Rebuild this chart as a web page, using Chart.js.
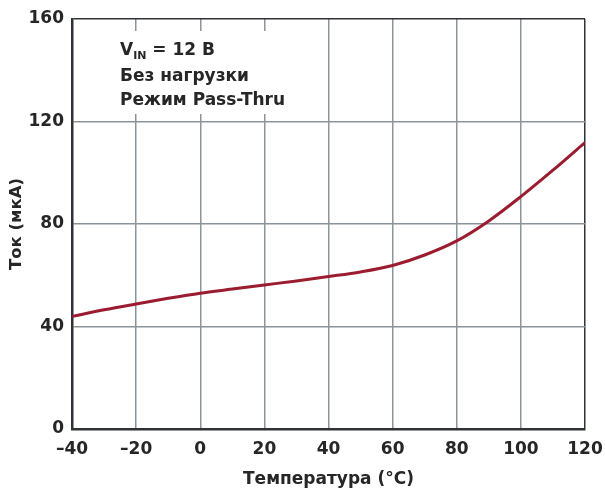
<!DOCTYPE html>
<html>
<head>
<meta charset="utf-8">
<script src="https://cdn.jsdelivr.net/npm/chart.js@4/dist/chart.umd.min.js"></script>
<style>
  html, body { margin: 0; padding: 0; background: #fff; }
  #wrap { width: 605px; height: 490px; }
</style>
</head>
<body>
<div id="wrap"><canvas id="c" width="605" height="490"></canvas></div>
<script>
// данные
const temps = [-40, -30, -20, -10, 0, 10, 20, 30, 40, 50, 60, 70, 80, 90, 100, 110, 120];
const current = [43.9, 46.5, 48.8, 51.0, 53.0, 54.6, 56.2, 57.8, 59.5, 61.3, 63.8, 67.9, 73.4, 81.2, 90.7, 101.0, 111.8];
const xTicks = [-40, -20, 0, 20, 40, 60, 80, 100, 120];
const yTicks = [0, 40, 80, 120, 160];
const noteLines = ["Без нагрузки", "Режим Pass-Thru"];

const FONT = "'DejaVu Sans', 'Liberation Sans', Arial, sans-serif";
const TEXT = "#262626";
const GRID = "#8a949b";
const FRAME = "#2f3237";

// белая подложка под подписью и сам текст
const notePlugin = {
  id: "note",
  beforeDatasetsDraw(chart) {
    const c = chart.ctx;
    c.save();
    c.fillStyle = "#fff";
    c.fillRect(82, 31, 236, 83);
    c.fillStyle = TEXT;
    c.textBaseline = "alphabetic";
    c.font = "bold 17px " + FONT;
    c.fillText("V", 120, 55);
    let w = c.measureText("V").width;
    c.font = "bold 11px " + FONT;
    c.fillText("IN", 120 + w, 59);
    w += c.measureText("IN").width;
    c.font = "bold 17px " + FONT;
    c.fillText(" = 12 В", 120 + w, 55);
    noteLines.forEach((s, i) => c.fillText(s, 120, 81 + i * 24));
    c.restore();
  }
};

const ctx = document.getElementById("c").getContext("2d");
new Chart(ctx, {
  type: "line",
  data: {
    datasets: [{
      data: temps.map((t, i) => ({ x: t, y: current[i] })),
      borderColor: "#9b1c2e",
      borderWidth: 3,
      pointRadius: 0,
      cubicInterpolationMode: "monotone",
      fill: false
    }]
  },
  options: {
    responsive: false,
    animation: false,
    layout: { padding: { top: 19, right: 20, left: 0, bottom: 0 } },
    plugins: { legend: { display: false }, tooltip: { enabled: false } },
    scales: {
      x: {
        type: "linear",
        min: -40, max: 120,
        afterBuildTicks: s => { s.ticks = xTicks.map(v => ({ value: v })); },
        afterFit: s => { s.height = 61; s.paddingLeft = 0; s.paddingRight = 0; },
        grid: {
          drawTicks: false,
          lineWidth: 1.5,
          color: c => (c.tick && c.tick.value === 120 ? FRAME : GRID)
        },
        border: { color: FRAME, width: 2.5 },
        ticks: {
          padding: 10,
          color: TEXT,
          font: { family: FONT, size: 17, weight: "bold" },
          maxRotation: 0,
          callback: v => (v < 0 ? "\u2013" + Math.abs(v) : String(v))
        },
        title: {
          display: true,
          text: "Температура (°C)",
          color: TEXT,
          font: { family: FONT, size: 17, weight: "bold" },
          padding: { top: 0, bottom: 0 }
        }
      },
      y: {
        min: 0, max: 160,
        afterBuildTicks: s => { s.ticks = yTicks.map(v => ({ value: v })); },
        afterFit: s => { s.width = 72; s.paddingTop = 0; s.paddingBottom = 0; },
        grid: {
          drawTicks: false,
          lineWidth: 1.5,
          color: c => (c.tick && c.tick.value === 160 ? FRAME : GRID)
        },
        border: { color: FRAME, width: 2.5 },
        ticks: {
          padding: 8,
          color: TEXT,
          font: { family: FONT, size: 17, weight: "bold" }
        },
        title: {
          display: true,
          text: "Ток (мкА)",
          color: TEXT,
          font: { family: FONT, size: 16.5, weight: "bold" },
          padding: { top: 7, bottom: 0 }
        }
      }
    }
  },
  plugins: [notePlugin]
});
</script>
</body>
</html>
